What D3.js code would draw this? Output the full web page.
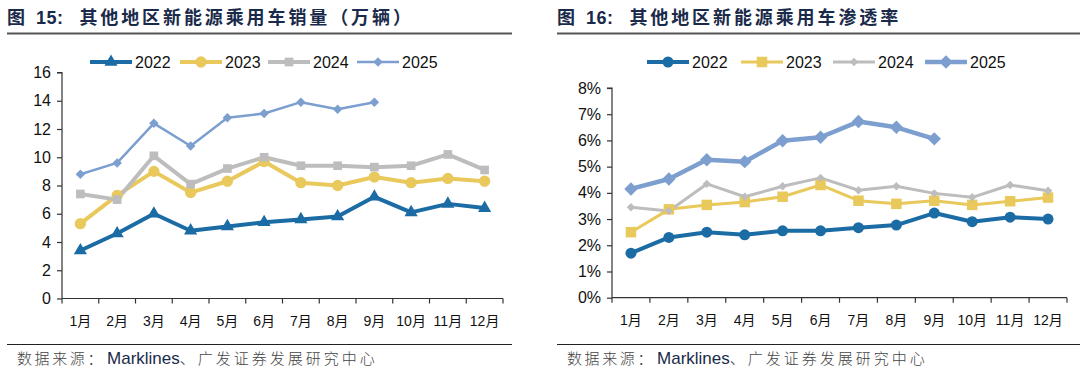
<!DOCTYPE html>
<html><head><meta charset="utf-8">
<script src="https://cdn.jsdelivr.net/npm/d3@7"></script>
<style>body{margin:0;background:#fff}svg{display:block}</style>
</head><body>
<svg id="c" width="1080" height="381"></svg>
<script>
const months = ["1月","2月","3月","4月","5月","6月","7月","8月","9月","10月","11月","12月"];
const years = ["2022","2023","2024","2025"];
// 图15 销量（万辆）
const sales2022 = [3.4,4.6,6.0,4.8,5.1,5.4,5.6,5.8,7.2,6.1,6.7,6.4];
const sales2023 = [5.3,7.3,9.0,7.5,8.3,9.7,8.2,8.0,8.6,8.2,8.5,8.3];
const sales2024 = [7.4,7.0,10.1,8.1,9.2,10.0,9.4,9.4,9.3,9.4,10.2,9.1];
const sales2025 = [8.8,9.6,12.4,10.8,12.8,13.1,13.9,13.4,13.9];
const salesTicks = [0,2,4,6,8,10,12,14,16];
// 图16 渗透率（%）
const pen2022 = [1.7,2.3,2.5,2.4,2.55,2.55,2.67,2.77,3.23,2.9,3.07,3.0];
const pen2023 = [2.5,3.37,3.54,3.65,3.85,4.3,3.7,3.58,3.7,3.54,3.68,3.82];
const pen2024 = [3.45,3.31,4.34,3.85,4.25,4.57,4.1,4.25,3.98,3.83,4.3,4.08];
const pen2025 = [4.15,4.53,5.26,5.19,5.99,6.12,6.72,6.5,6.06];
const penTicks = [0,1,2,3,4,5,6,7,8];

const colors = {"2022":"#1B6BA5","2023":"#E9C85C","2024":"#BDBDBD","2025":"#7D9FCF"};
const svg = d3.select("#c");
const FONT = "'Liberation Sans', Arial, 'Noto Sans CJK SC', sans-serif";

function marker(g, type, size, color, x, y){
  let sym, rot = 0;
  if(type==="triangle") sym = d3.symbolTriangle;
  else if(type==="circle") sym = d3.symbolCircle;
  else if(type==="square") sym = d3.symbolSquare;
  else { sym = d3.symbolSquare; rot = 45; }
  g.append("path").attr("d", d3.symbol().type(sym).size(size)())
    .attr("transform", `translate(${x},${y}) rotate(${rot})`)
    .attr("fill", color);
}

function chart(cfg){
  const g = svg.append("g");
  // title
  const t = g.append("text").attr("x", cfg.titleX).attr("y", 24)
    .attr("font-size", 18).attr("font-weight",600).attr("fill","#1a2a4a").attr("letter-spacing", 2.9)
    .attr("font-family", "'Noto Sans CJK SC', sans-serif");
  t.append("tspan").text("图");
  t.append("tspan").attr("dx", 8).attr("font-weight","bold").attr("letter-spacing", 0.5)
    .attr("font-family", "'Liberation Sans', Arial, sans-serif").text(cfg.num + ":");
  t.append("tspan").attr("dx", 16).text(cfg.title);
  g.append("line").attr("x1", cfg.ruleX1).attr("x2", cfg.ruleX2).attr("y1", 33.5).attr("y2", 33.5)
    .attr("stroke", "#555").attr("stroke-width", 2);
  g.append("line").attr("x1", cfg.ruleX1).attr("x2", cfg.ruleX2).attr("y1", 344.5).attr("y2", 344.5)
    .attr("stroke", "#222").attr("stroke-width", 1.2);
  const s = g.append("text").attr("x", cfg.srcX).attr("y", 364).attr("font-size", 15).attr("fill", "#222")
    .attr("font-family", "'Noto Sans CJK SC', sans-serif");
  s.append("tspan").attr("font-weight", 300).attr("fill","#444").attr("letter-spacing", 2.6).text("数据来源：");
  s.append("tspan").attr("dx", 2).attr("font-size", 17).attr("font-family", "'Liberation Sans', Arial, sans-serif").attr("fill","#1a2a4a").text("Marklines");
  s.append("tspan").attr("fill","#444").attr("font-weight", 300).attr("letter-spacing", 3.0).text("、广发证券发展研究中心");

  const x = d3.scaleBand().domain(months).range([cfg.x0, cfg.x1]);
  const y = d3.scaleLinear().domain([0, cfg.max]).range([cfg.y0, cfg.y1]);

  // y axis
  const ya = g.append("g").attr("transform", `translate(${cfg.x0},0)`)
    .call(d3.axisLeft(y).tickValues(cfg.ticks).tickSize(5).tickPadding(6).tickFormat(cfg.fmt));
  ya.select(".domain").attr("stroke","#333").attr("stroke-width",1.2).attr("d", `M-5,${cfg.y1}H0V${cfg.y0}`);
  ya.selectAll(".tick line").attr("stroke","#333").attr("stroke-width",1.2);
  ya.selectAll(".tick text").attr("font-size", 16).attr("font-family", FONT).attr("fill","#111");

  // x axis with ticks on band boundaries
  const xa = g.append("g").attr("transform", `translate(0,${cfg.y0})`);
  xa.append("line").attr("x1", cfg.x0).attr("x2", cfg.x1).attr("stroke","#333").attr("stroke-width",1.2);
  const bounds = months.map(m => x(m)).concat([cfg.x1]);
  xa.selectAll(".xt").data(bounds).join("line").attr("x1", d=>d).attr("x2", d=>d)
    .attr("y1", 0).attr("y2", 5).attr("stroke","#333").attr("stroke-width",1.2);
  xa.selectAll(".xl").data(months).join("text").attr("x", d=>x(d)+x.bandwidth()/2).attr("y", 27)
    .attr("text-anchor","middle").attr("font-size", 14).attr("font-family", FONT).attr("fill","#111").text(d=>d);

  const line = d3.line().x((d,i)=>x(months[i])+x.bandwidth()/2).y(d=>y(d));
  cfg.series.forEach(se => {
    g.append("path").datum(se.data).attr("d", line).attr("fill","none")
      .attr("stroke", colors[se.year]).attr("stroke-width", se.lw).attr("stroke-linejoin","round");
  });
  cfg.series.forEach(se => {
    se.data.forEach((d,i)=> marker(g, se.m, se.ms, colors[se.year], x(months[i])+x.bandwidth()/2, y(d)));
  });
  // legend
  cfg.series.forEach((se, k) => {
    const lx = cfg.legX[k], ly = 62;
    g.append("line").attr("x1", lx).attr("x2", lx+42).attr("y1", ly).attr("y2", ly)
      .attr("stroke", colors[se.year]).attr("stroke-width", se.lw);
    marker(g, se.m, se.ms, colors[se.year], lx+21, ly);
    g.append("text").attr("x", lx+45).attr("y", ly+6).attr("font-size", 16).attr("font-family", FONT)
      .attr("fill","#111").text(se.year);
  });
}

chart({
  num: "15", title: "其他地区新能源乘用车销量（万辆）", titleX: 7, ruleX1: 7, ruleX2: 512, srcX: 17,
  x0: 62, x1: 503, y0: 298.5, y1: 72.5, max: 16, ticks: salesTicks, fmt: d3.format("d"),
  legX: [90, 180, 268, 357],
  series: [
    {year:"2022", data: sales2022, lw: 4, m:"triangle", ms: 75},
    {year:"2023", data: sales2023, lw: 4, m:"circle", ms: 100},
    {year:"2024", data: sales2024, lw: 4, m:"square", ms: 75},
    {year:"2025", data: sales2025, lw: 2.5, m:"diamond", ms: 45}
  ]
});
chart({
  num: "16", title: "其他地区新能源乘用车渗透率", titleX: 557, ruleX1: 557, ruleX2: 1080, srcX: 567,
  x0: 612, x1: 1067, y0: 297.7, y1: 88, max: 8, ticks: penTicks, fmt: d => d + "%",
  legX: [647, 741, 833, 925],
  series: [
    {year:"2022", data: pen2022, lw: 4, m:"circle", ms: 95},
    {year:"2023", data: pen2023, lw: 3, m:"square", ms: 110},
    {year:"2024", data: pen2024, lw: 3, m:"diamond", ms: 35},
    {year:"2025", data: pen2025, lw: 4.5, m:"diamond", ms: 90}
  ]
});
</script>
</body></html>
